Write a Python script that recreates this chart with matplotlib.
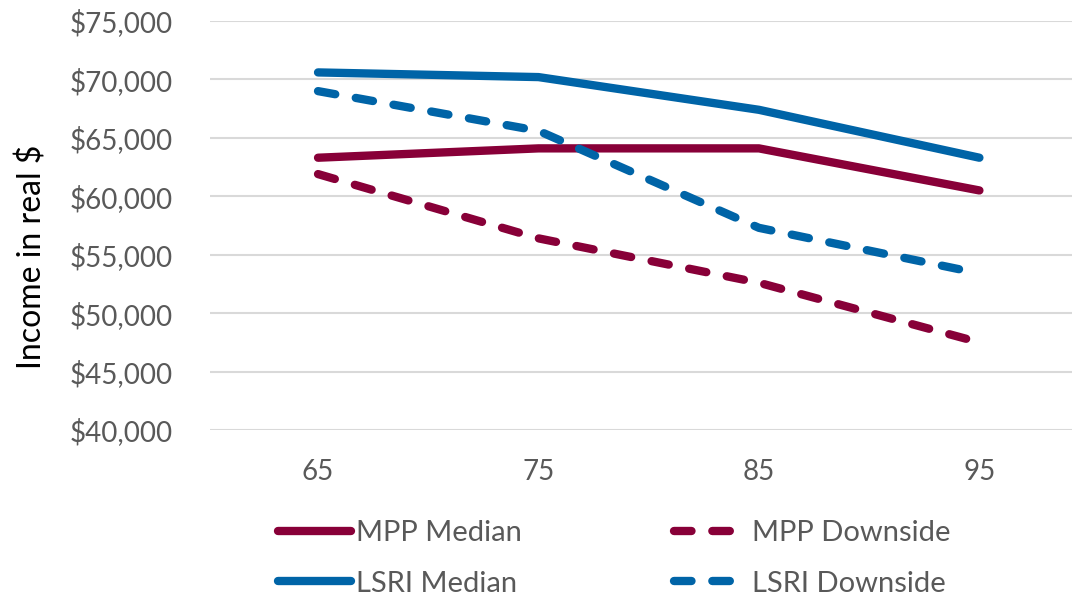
import matplotlib
matplotlib.use('Agg')
import matplotlib.pyplot as plt

# Dados
ages = ['65', '75', '85', '95']
mpp_median = [63300, 64100, 64100, 60500]
mpp_downside = [61900, 56400, 52600, 47500]
lsri_median = [70600, 70200, 67400, 63300]
lsri_downside = [69000, 65600, 57300, 53400]

maroon = '#880038'
blue = '#0064A7'
grey = '#595959'

plt.rcParams['font.family'] = ['Lato', 'DejaVu Sans']

fig = plt.figure(figsize=(10.72, 5.99), dpi=100)
ax = fig.add_axes([210 / 1072, 1 - 430 / 599, 1 - 210 / 1072, (430 - 21) / 599])

x = range(len(ages))
lw = 6
dash = (0, (2.1, 2.5))
l1, = ax.plot(x, mpp_median, color=maroon, lw=lw, solid_capstyle='round', solid_joinstyle='round', label='MPP Median')
l2, = ax.plot(x, mpp_downside, color=maroon, lw=lw, ls=dash, dash_capstyle='round', label='MPP Downside')
l3, = ax.plot(x, lsri_median, color=blue, lw=lw, solid_capstyle='round', solid_joinstyle='round', label='LSRI Median')
l4, = ax.plot(x, lsri_downside, color=blue, lw=lw, ls=dash, dash_capstyle='round', label='LSRI Downside')

ax.set_xlim(-0.49, 3.42)
ax.set_ylim(40000, 75000)
ax.set_yticks(range(40000, 75001, 5000))
ax.set_yticklabels([f'${v:,}' for v in range(40000, 75001, 5000)])
ax.set_xticks(list(x))
ax.set_xticklabels(ages)

ax.grid(axis='y', color='#D9D9D9', lw=1.5)
ax.set_axisbelow(True)
for s in ax.spines.values():
    s.set_visible(False)
ax.tick_params(axis='both', length=0, labelsize=20, labelcolor=grey)
ax.tick_params(axis='y', pad=27)
ax.tick_params(axis='x', pad=21)
for l in ax.get_lines():
    l.set_clip_on(False)

ax.set_ylabel('Income in real $', fontsize=23, color='black')
ax.yaxis.set_label_coords(-0.189, 0.423)

fig.legend(handles=[l1, l3, l2, l4], ncol=2, loc='center',
           bbox_to_anchor=(0.573, 0.068), frameon=False, fontsize=21,
           labelcolor=grey, handlelength=2.5, handletextpad=0.17,
           columnspacing=5.2, labelspacing=0.85)

plt.savefig('out.png', dpi=100)
